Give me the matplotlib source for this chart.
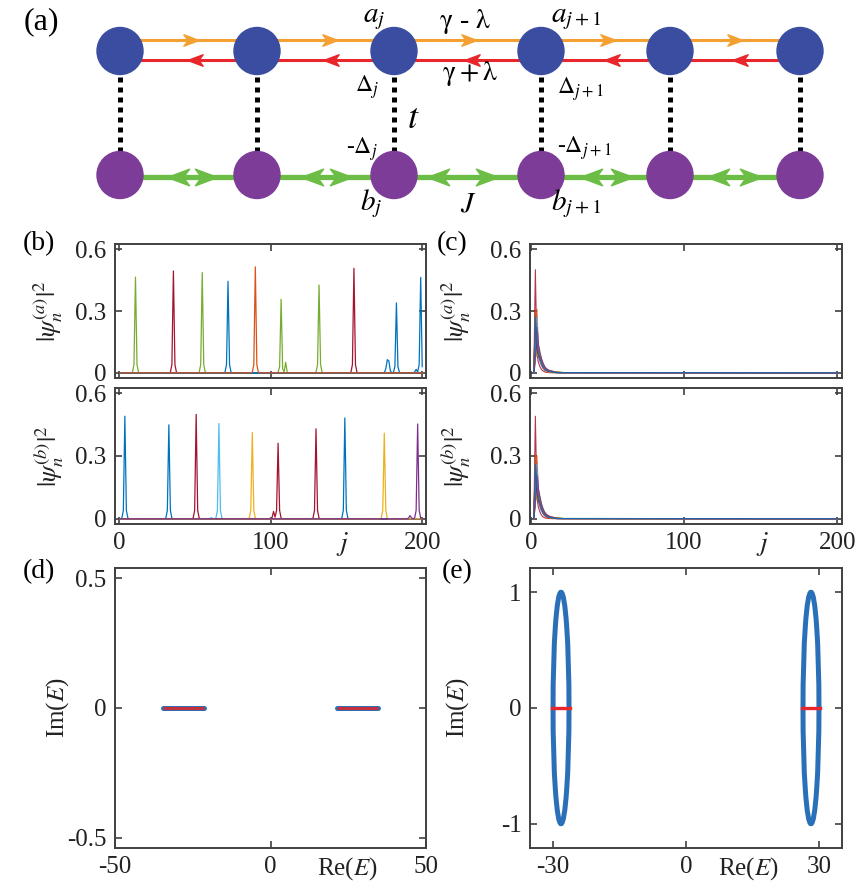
import matplotlib
matplotlib.use('Agg')
import matplotlib.pyplot as plt
from matplotlib.patches import Ellipse
from matplotlib.path import Path

plt.rcParams['font.family'] = ['Liberation Serif', 'DejaVu Serif']
plt.rcParams['mathtext.fontset'] = 'stix'
plt.rcParams['axes.unicode_minus'] = False

# ---------------- data ----------------
# MATLAB default colour order
C_BLUE, C_ORANGE, C_YELLOW, C_PURPLE, C_GREEN, C_CYAN, C_RED = (
    '#0072BD', '#D95319', '#EDB120', '#7E2F8E', '#77AC30', '#4DBEEE', '#A2142F')

# panel (b), a-sublattice: localized states (site index, |psi|^2)
ba_colors = [C_GREEN, C_RED, C_GREEN, C_BLUE, C_GREEN, C_GREEN, C_RED, C_BLUE, C_BLUE, C_ORANGE]
ba_j = [
    [1, 8, 9, 10, 11, 12, 13, 14, 200],
    [1, 33, 34, 35, 36, 37, 38, 39, 200],
    [1, 52, 53, 54, 55, 56, 57, 58, 200],
    [1, 69, 70, 71, 72, 73, 74, 75, 200],
    [1, 104, 105, 106, 107, 108, 109, 110, 111, 112, 200],
    [1, 129, 130, 131, 132, 133, 134, 135, 200],
    [1, 152, 153, 154, 155, 156, 157, 158, 200],
    [1, 175, 176, 177, 178, 179, 180, 181, 182, 183, 184, 185, 186, 200],
    [1, 194, 195, 196, 197, 198, 199, 200],
    [1, 87, 88, 89, 90, 91, 92, 93, 200],
]
ba_val = [
    [0, 0, 0.003, 0.04, 0.464, 0.04, 0.003, 0, 0],
    [0, 0, 0.003, 0.04, 0.494, 0.04, 0.003, 0, 0],
    [0, 0, 0.003, 0.04, 0.486, 0.04, 0.003, 0, 0],
    [0, 0, 0.003, 0.04, 0.444, 0.04, 0.003, 0, 0],
    [0, 0, 0.003, 0.03, 0.357, 0.02, 0.005, 0.051, 0.004, 0, 0],
    [0, 0, 0.003, 0.04, 0.426, 0.04, 0.003, 0, 0],
    [0, 0, 0.003, 0.04, 0.507, 0.04, 0.003, 0, 0],
    [0, 0, 0.02, 0.064, 0.058, 0.01, 0, 0.003, 0.03, 0.339, 0.03, 0.003, 0, 0],
    [0, 0, 0.004, 0.017, 0.004, 0.04, 0.463, 0.03],
    [0, 0, 0.003, 0.04, 0.514, 0.04, 0.003, 0, 0],
]

# panel (b), b-sublattice
bb_colors = [C_BLUE, C_BLUE, C_RED, C_CYAN, C_YELLOW, C_RED, C_RED, C_BLUE, C_YELLOW, C_PURPLE]
bb_j = [
    [1, 2, 3, 4, 5, 6, 7, 200],
    [1, 30, 31, 32, 33, 34, 35, 36, 200],
    [1, 48, 49, 50, 51, 52, 53, 54, 200],
    [1, 59, 60, 61, 62, 63, 64, 65, 66, 67, 68, 69, 200],
    [1, 85, 86, 87, 88, 89, 90, 91, 200],
    [1, 100, 101, 102, 103, 104, 105, 106, 107, 108, 200],
    [1, 127, 128, 129, 130, 131, 132, 133, 200],
    [1, 146, 147, 148, 149, 150, 151, 152, 200],
    [1, 172, 173, 174, 175, 176, 177, 178, 200],
    [1, 190, 191, 192, 193, 194, 195, 196, 197, 198, 199, 200],
]
bb_val = [
    [0, 0.003, 0.04, 0.490, 0.04, 0.003, 0, 0],
    [0, 0, 0.003, 0.04, 0.449, 0.04, 0.003, 0, 0],
    [0, 0, 0.003, 0.04, 0.499, 0.04, 0.003, 0, 0],
    [0, 0, 0.002, 0.005, 0.002, 0, 0.003, 0.04, 0.455, 0.04, 0.003, 0, 0],
    [0, 0, 0.003, 0.04, 0.412, 0.04, 0.003, 0, 0],
    [0, 0, 0.005, 0.035, 0.008, 0.04, 0.361, 0.04, 0.003, 0, 0],
    [0, 0, 0.003, 0.04, 0.430, 0.04, 0.003, 0, 0],
    [0, 0, 0.003, 0.04, 0.482, 0.04, 0.003, 0, 0],
    [0, 0, 0.003, 0.04, 0.409, 0.04, 0.003, 0, 0],
    [0, 0, 0.004, 0.015, 0.004, 0, 0.003, 0.04, 0.453, 0.04, 0.003, 0],
]

# panel (c): skin-localized states, profiles starting at site j = 2
c_start = 2
ca_prof = [
    [0, 0.50, 0.09, 0.05, 0.03, 0.016, 0.009, 0.005, 0.003, 0.002, 0.001],
    [0, 0.05, 0.31, 0.12, 0.07, 0.040, 0.022, 0.013, 0.008, 0.005, 0.003, 0.002, 0.001],
    [0, 0.26, 0.20, 0.13, 0.08, 0.050, 0.030, 0.018, 0.011, 0.007, 0.004, 0.003, 0.002, 0.001],
    [0, 0.12, 0.24, 0.13, 0.09, 0.060, 0.040, 0.025, 0.016, 0.011, 0.008, 0.006, 0.004, 0.003, 0.002, 0.001],
    [0, 0.20, 0.16, 0.125, 0.095, 0.065, 0.045, 0.028, 0.018, 0.013, 0.010, 0.008, 0.006, 0.0045, 0.0035, 0.0025, 0.0015],
    [0, 0.16, 0.18, 0.11, 0.085, 0.060, 0.042, 0.026, 0.019, 0.014, 0.011, 0.009, 0.007, 0.0055, 0.0045, 0.0035, 0.0025, 0.0015],
    [0, 0.10, 0.14, 0.12, 0.080, 0.055, 0.036, 0.027, 0.020, 0.015, 0.012, 0.010, 0.008, 0.0065, 0.005, 0.004, 0.003, 0.002, 0.001],
    [0, 0.22, 0.10, 0.09, 0.075, 0.050, 0.032, 0.021, 0.015, 0.012, 0.010, 0.008, 0.007, 0.006, 0.005, 0.004, 0.0035, 0.003, 0.002, 0.001],
    [0, 0.08, 0.12, 0.11, 0.070, 0.045, 0.030, 0.020, 0.014, 0.011, 0.009, 0.008, 0.007, 0.006, 0.0055, 0.005, 0.004, 0.0035, 0.003, 0.002, 0.001],
    [0, 0.29, 0.13, 0.08, 0.055, 0.036, 0.024, 0.016, 0.011, 0.008, 0.006, 0.005, 0.004, 0.003, 0.002, 0.001],
    [0, 0.14, 0.08, 0.10, 0.072, 0.048, 0.033, 0.022, 0.016, 0.012, 0.0095, 0.008, 0.0065, 0.0055, 0.0045, 0.004, 0.0035, 0.003, 0.002, 0.001],
    [0, 0.18, 0.27, 0.10, 0.060, 0.042, 0.028, 0.018, 0.012, 0.009, 0.007, 0.0055, 0.004, 0.003, 0.002, 0.001],
    [0, 0.24, 0.11, 0.085, 0.065, 0.046, 0.031, 0.020, 0.014, 0.010, 0.008, 0.006, 0.0045, 0.0035, 0.0025, 0.0015, 0.001],
    [0, 0.30, 0.17, 0.11, 0.078, 0.052, 0.034, 0.021, 0.014, 0.010, 0.007, 0.005, 0.0035, 0.0025, 0.0015, 0.001],
    [0, 0.07, 0.22, 0.14, 0.10, 0.070, 0.048, 0.032, 0.022, 0.016, 0.012, 0.009, 0.007, 0.005, 0.004, 0.003, 0.002, 0.001],
    [0, 0.27, 0.15, 0.095, 0.07, 0.047, 0.030, 0.019, 0.013, 0.009, 0.007, 0.005, 0.004, 0.003, 0.002, 0.001],
]
cb_prof = [
    [0, 0.49, 0.10, 0.055, 0.032, 0.017, 0.009, 0.005, 0.003, 0.002, 0.001],
    [0, 0.06, 0.30, 0.13, 0.075, 0.043, 0.024, 0.014, 0.008, 0.005, 0.003, 0.002, 0.001],
    [0, 0.27, 0.19, 0.135, 0.085, 0.052, 0.032, 0.019, 0.012, 0.008, 0.005, 0.003, 0.002, 0.001],
    [0, 0.11, 0.25, 0.14, 0.095, 0.063, 0.041, 0.026, 0.017, 0.012, 0.008, 0.006, 0.004, 0.003, 0.002, 0.001],
    [0, 0.21, 0.15, 0.13, 0.10, 0.068, 0.046, 0.029, 0.019, 0.014, 0.011, 0.008, 0.006, 0.0045, 0.0035, 0.0025, 0.0015],
    [0, 0.15, 0.19, 0.115, 0.088, 0.062, 0.043, 0.027, 0.020, 0.015, 0.012, 0.009, 0.007, 0.0055, 0.0045, 0.0035, 0.0025, 0.0015],
    [0, 0.10, 0.15, 0.12, 0.082, 0.056, 0.037, 0.028, 0.021, 0.016, 0.012, 0.010, 0.008, 0.0065, 0.005, 0.004, 0.003, 0.002, 0.001],
    [0, 0.23, 0.11, 0.095, 0.076, 0.051, 0.033, 0.022, 0.016, 0.012, 0.010, 0.008, 0.007, 0.006, 0.005, 0.004, 0.0035, 0.003, 0.002, 0.001],
    [0, 0.09, 0.13, 0.10, 0.072, 0.046, 0.031, 0.021, 0.015, 0.011, 0.009, 0.008, 0.007, 0.006, 0.0055, 0.005, 0.004, 0.0035, 0.003, 0.002, 0.001],
    [0, 0.29, 0.14, 0.085, 0.057, 0.037, 0.025, 0.017, 0.012, 0.008, 0.006, 0.005, 0.004, 0.003, 0.002, 0.001],
    [0, 0.13, 0.09, 0.105, 0.074, 0.049, 0.034, 0.023, 0.016, 0.012, 0.0095, 0.008, 0.0065, 0.0055, 0.0045, 0.004, 0.0035, 0.003, 0.002, 0.001],
    [0, 0.19, 0.26, 0.105, 0.062, 0.043, 0.029, 0.019, 0.013, 0.009, 0.007, 0.0055, 0.004, 0.003, 0.002, 0.001],
    [0, 0.25, 0.12, 0.09, 0.067, 0.047, 0.032, 0.021, 0.014, 0.010, 0.008, 0.006, 0.0045, 0.0035, 0.0025, 0.0015, 0.001],
    [0, 0.31, 0.16, 0.115, 0.08, 0.053, 0.035, 0.022, 0.015, 0.010, 0.007, 0.005, 0.0035, 0.0025, 0.0015, 0.001],
    [0, 0.08, 0.21, 0.145, 0.105, 0.072, 0.049, 0.033, 0.023, 0.016, 0.012, 0.009, 0.007, 0.005, 0.004, 0.003, 0.002, 0.001],
    [0, 0.26, 0.16, 0.10, 0.072, 0.048, 0.031, 0.020, 0.013, 0.009, 0.007, 0.005, 0.004, 0.003, 0.002, 0.001],
]
c_colors = [C_RED, C_ORANGE, C_YELLOW, C_PURPLE, C_GREEN, C_CYAN, C_RED, C_ORANGE,
            C_YELLOW, C_PURPLE, C_GREEN, C_CYAN, C_RED, C_ORANGE, C_PURPLE, C_BLUE]
j_last = 200

# panel (d): real spectrum, two bands on Im(E)=0
d_bands = [(-34.5, -21.5), (21.5, 34.5)]
# panel (e): complex loops (centre, half-width in Re, half-height in Im) and real segments
e_centers = [-28.2, 28.2]
e_halfwidth = [1.8, 1.8]
e_halfheight = [1.0, 1.0]
e_segments = [(-30.2, -26.2), (26.2, 30.2)]

# panel (a) lattice schematic
node_x = [120, 257, 394, 541, 670, 800]
top_y, bot_y = 51, 175
orange_arrow_frac = [0.52, 0.53, 0.51, 0.52, 0.50]
red_arrow_frac = [0.55, 0.54, 0.53, 0.55, 0.54]
green_left_frac = [0.42, 0.40, 0.30, 0.39, 0.37]
green_right_frac = [0.63, 0.61, 0.63, 0.63, 0.62]

# ---------------- figure ----------------
W, H = 865, 891
fig = plt.figure(figsize=(W / 100, H / 100), dpi=100)


def rect(x0, y0, x1, y1):
    return [x0 / W, 1 - y1 / H, (x1 - x0) / W, (y1 - y0) / H]


AX_COL = '#404040'
TXT_COL = '#222222'


def style(ax):
    for s in ax.spines.values():
        s.set_linewidth(1.4)
        s.set_color(AX_COL)
    ax.tick_params(direction='in', top=True, right=True, length=5, width=1.2,
                   color=AX_COL, labelsize=18, pad=6, labelcolor=TXT_COL)


# ---- panel (a) ----
axa = fig.add_axes(rect(0, 0, 865, 222))
axa.set_xlim(0, 865)
axa.set_ylim(222, 0)
axa.axis('off')

COL_NODE_A = '#3A4DA0'
COL_NODE_B = '#7D3C98'
COL_OR = '#F5A033'
COL_RD = '#E8262B'
COL_GR = '#6CBD45'

axa.plot([node_x[0], node_x[-1]], [top_y - 11, top_y - 11], color=COL_OR, lw=2.2, zorder=1)
axa.plot([node_x[0], node_x[-1]], [top_y + 8.5, top_y + 8.5], color=COL_RD, lw=2.2, zorder=1)
axa.plot([node_x[0], node_x[-1]], [bot_y + 2, bot_y + 2], color=COL_GR, lw=3.8, zorder=1)

arrow_r = Path([(1, 0), (-1, 0.75), (-0.45, 0), (-1, -0.75), (1, 0)],
               [Path.MOVETO, Path.LINETO, Path.LINETO, Path.LINETO, Path.CLOSEPOLY])
arrow_l = Path([(-1, 0), (1, 0.75), (0.45, 0), (1, -0.75), (-1, 0)],
               [Path.MOVETO, Path.LINETO, Path.LINETO, Path.LINETO, Path.CLOSEPOLY])

for k in range(len(node_x) - 1):
    x0, x1 = node_x[k], node_x[k + 1]
    axa.plot([x0 + orange_arrow_frac[k] * (x1 - x0)], [top_y - 11], marker=arrow_r,
             ms=11, color=COL_OR, mec=COL_OR, zorder=2)
    axa.plot([x0 + red_arrow_frac[k] * (x1 - x0)], [top_y + 8.5], marker=arrow_l,
             ms=11, color=COL_RD, mec=COL_RD, zorder=2)
    axa.plot([x0 + green_left_frac[k] * (x1 - x0)], [bot_y + 2], marker=arrow_l,
             ms=16, color=COL_GR, mec=COL_GR, zorder=2)
    axa.plot([x0 + green_right_frac[k] * (x1 - x0)], [bot_y + 2], marker=arrow_r,
             ms=16, color=COL_GR, mec=COL_GR, zorder=2)

for x in node_x:
    axa.plot([x, x], [77, 152], color='black', lw=3.6, ls=(0, (1.0, 1.0)), zorder=1)
    axa.add_patch(Ellipse((x, top_y), 46, 47, color=COL_NODE_A, zorder=3))
    axa.add_patch(Ellipse((x, bot_y), 46, 47, color=COL_NODE_B, zorder=3))

tk = dict(color='black', ha='center', va='center')
axa.text(41, 22, '(a)', fontsize=23, **tk)
axa.text(374, 19, r'$a_j$', fontsize=21, **tk)
axa.text(465, 22, r'$\mathrm{\gamma}$ - $\mathrm{\lambda}$', fontsize=20, **tk)
axa.text(576, 19, r'$a_{j+1}$', fontsize=21, **tk)
axa.text(367, 87, r'$\Delta_j$', fontsize=17, **tk)
axa.text(470, 73, r'$\mathrm{\gamma+\lambda}$', fontsize=20, **tk)
axa.text(580, 89, r'$\Delta_{j+1}$', fontsize=17, **tk)
axa.text(413, 119, r'$t$', fontsize=26, **tk)
axa.text(362, 149, r'-$\Delta_j$', fontsize=17, **tk)
axa.text(584, 148, r'-$\Delta_{j+1}$', fontsize=17, **tk)
axa.text(371, 204, r'$b_j$', fontsize=21, **tk)
axa.text(468, 204, r'$J$', fontsize=21, **tk)
axa.text(576, 204, r'$b_{j+1}$', fontsize=21, **tk)

# ---- panels (b) and (c) ----
ax_b1 = fig.add_axes(rect(115, 244, 426, 378))
ax_b2 = fig.add_axes(rect(115, 388, 426, 524))
ax_c1 = fig.add_axes(rect(530, 244, 842, 378))
ax_c2 = fig.add_axes(rect(530, 388, 842, 524))

for ax, js, vs, cols in [(ax_b1, ba_j, ba_val, ba_colors), (ax_b2, bb_j, bb_val, bb_colors)]:
    for jj, vv, cc in zip(js, vs, cols):
        ax.plot(jj, vv, color=cc, lw=0.9)
    ax.set_xlim(-2.5, 202.5)

for ax, profs in [(ax_c1, ca_prof), (ax_c2, cb_prof)]:
    for vv, cc in zip(profs, c_colors):
        xs = list(range(c_start, c_start + len(vv))) + [j_last]
        ax.plot(xs, vv + [0], color=cc, lw=0.8, alpha=0.85)
    ax.set_xlim(-0.5, 203)

for ax, lab in [(ax_b1, 'a'), (ax_b2, 'b'), (ax_c1, 'a'), (ax_c2, 'b')]:
    style(ax)
    ax.set_ylim(-0.025, 0.625)
    ax.set_yticks([0, 0.3, 0.6])
    ax.set_yticklabels(['0', '0.3', '0.6'])
    ax.set_xticks([0, 100, 200])
    ax.set_ylabel(r'$|\psi_n^{(%s)}|^2$' % lab, fontsize=19, va='center', color=TXT_COL)

for ax in (ax_b1, ax_c1):
    ax.set_xticklabels([])

ax_b1.yaxis.set_label_coords(-0.215, 0.5)
ax_b2.yaxis.set_label_coords(-0.215, 0.5)
ax_c1.yaxis.set_label_coords(-0.237, 0.5)
ax_c2.yaxis.set_label_coords(-0.237, 0.5)

for ax, xc in [(ax_b2, 0.733), (ax_c2, 0.744)]:
    ax.set_xlabel(r'$j$', fontsize=20, va='baseline', color=TXT_COL)
    ax.xaxis.set_label_coords(xc, -0.19)

# ---- panel (d) ----
ax_d = fig.add_axes(rect(115, 568, 426, 848))
for lo, hi in d_bands:
    ax_d.plot([lo, hi], [0, 0], color='#2A70B8', lw=3.6, solid_capstyle='round')
    ax_d.plot([lo, hi], [0, 0], color='#C3313E', lw=2.2, solid_capstyle='butt')
style(ax_d)
ax_d.set_xlim(-50, 50)
ax_d.set_ylim(-0.54, 0.54)
ax_d.set_xticks([-50, 0, 50])
ax_d.set_yticks([-0.5, 0, 0.5])
ax_d.set_yticklabels(['-0.5', '0', '0.5'])
ax_d.set_ylabel(r'Im($E$)', fontsize=18, va='center', color=TXT_COL)
ax_d.yaxis.set_label_coords(-0.185, 0.5)
ax_d.set_xlabel(r'Re($E$)', fontsize=18, va='baseline', color=TXT_COL)
ax_d.xaxis.set_label_coords(0.746, -0.096)

# ---- panel (e) ----
ax_e = fig.add_axes(rect(530, 568, 842, 848))
for c, a, b in zip(e_centers, e_halfwidth, e_halfheight):
    ax_e.add_patch(Ellipse((c, 0), 2 * a, 2 * b, fill=False, edgecolor='#2A70B8', lw=3.6))
for lo, hi in e_segments:
    ax_e.plot([lo, hi], [0, 0], color='#E8262B', lw=2.4, zorder=5)
style(ax_e)
ax_e.set_xlim(-35.2, 35.2)
ax_e.set_ylim(-1.21, 1.21)
ax_e.set_xticks([-30, 0, 30])
ax_e.set_yticks([-1, 0, 1])
ax_e.set_ylabel(r'Im($E$)', fontsize=18, va='center', color=TXT_COL)
ax_e.yaxis.set_label_coords(-0.231, 0.5)
ax_e.set_xlabel(r'Re($E$)', fontsize=18, va='baseline', color=TXT_COL)
ax_e.xaxis.set_label_coords(0.699, -0.096)

# panel letters
for s, x, y in [('(b)', 39, 244), ('(c)', 452, 244), ('(d)', 39, 572), ('(e)', 457, 572)]:
    fig.text(x / W, 1 - y / H, s, fontsize=20, ha='center', va='center', color='black')

fig.savefig('out.png', dpi=100)
